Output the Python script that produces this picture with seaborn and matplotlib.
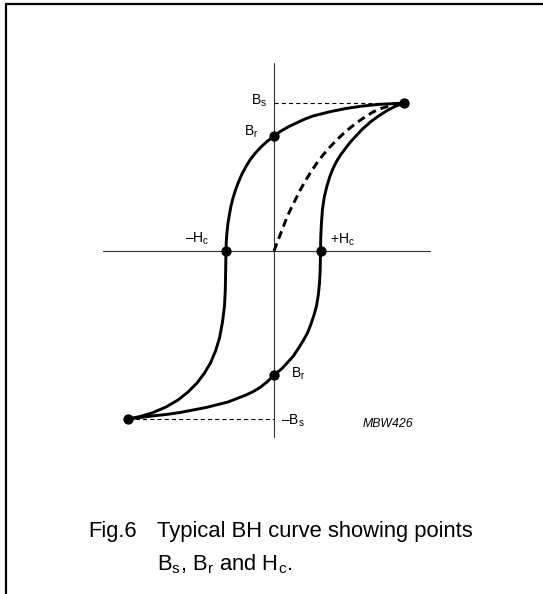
import matplotlib
matplotlib.use("Agg")
import matplotlib.pyplot as plt
from matplotlib.lines import Line2D
import pandas as pd
import seaborn as sns

# ---- hysteresis loop data (H and B in arbitrary units) ----
# descending branch: +saturation -> +Br -> -Hc -> -saturation
h_desc = [130, 118, 106, 89, 73, 56, 39, 31, 23, 15, 7, 0, -7, -13, -19, -24, -28, -32,
          -35.5, -38.5, -41, -43, -44.5, -46, -47, -47.7, -48, -48.2, -48.4, -48.7,
          -49.5, -51.5, -54.5, -58.5, -63.5, -69.5, -77, -86, -96, -108, -122, -134, -146]
b_desc = [148, 147.3, 146.7, 145, 142.7, 139.3, 135, 132, 128.3, 124.5, 120, 115, 109.5,
          104, 97.5, 91, 84.5, 77, 69, 61, 53, 45, 37, 28, 19, 10, 0, -11, -24, -39,
          -55, -71, -87, -100, -112, -122, -132, -141, -149, -156, -162, -165.5, -168]

# ascending branch: -saturation -> -Br -> +Hc -> +saturation
h_asc = [-146, -134, -122, -108, -94, -81, -68, -56, -46, -37, -28, -21, -14, -7, 0, 8,
         14, 19, 24, 29, 33.5, 37, 40, 42.5, 44.3, 45.5, 46.2, 46.5, 46.8, 47.5, 48.5,
         50.3, 52.7, 55.5, 58.8, 62.5, 66.5, 71, 76, 81.5, 88, 97, 106, 114, 122, 130]
b_asc = [-168, -166.5, -165, -163.5, -161.5, -159, -156.5, -153.5, -151, -147.5, -144,
         -140.7, -136.5, -131, -124, -117.5, -111, -105.5, -98, -90, -82, -73, -64, -55,
         -44, -32, -19, 0, 15, 29, 42, 54, 64, 73.5, 82, 89.5, 96, 102, 108.5, 114.5, 121.5,
         129.5, 136, 141, 145, 148]

# initial magnetization curve from the demagnetized state
h_init = [0, 3, 6.5, 10, 13, 17.5, 22, 26, 31, 36.5, 42.7, 49, 56, 62.7, 69.5, 76, 83,
          91, 99, 107, 115, 123, 130]
b_init = [0, 8, 17, 26, 34, 43.5, 52.5, 60.5, 69.5, 78.5, 87.7, 96, 104, 111, 117.5,
          123, 128.5, 134, 139, 142.5, 145, 146.8, 148]

# characteristic points
h_sat, b_sat = 130, 148            # +saturation
h_nsat, b_nsat = -146, -168        # -saturation
b_rem_pos, b_rem_neg = 115, -124   # remanence
h_coer_neg, h_coer_pos = -48, 46.5 # coercivity

point_h = [h_sat, h_nsat, 0, 0, h_coer_neg, h_coer_pos]
point_b = [b_sat, b_nsat, b_rem_pos, b_rem_neg, 0, 0]

# extent of the drawn H and B axes
h_axis_extent = [-171, 156]
b_axis_extent = [-186, 188]

# ---- styling ----
sns.set_theme(style="white")
plt.rcParams["font.family"] = ["Liberation Sans", "DejaVu Sans"]
plt.rcParams["text.color"] = "black"
plt.rcParams["mathtext.fontset"] = "custom"
plt.rcParams["mathtext.rm"] = "Liberation Sans"
plt.rcParams["mathtext.it"] = "Liberation Sans:italic"
plt.rcParams["mathtext.bf"] = "Liberation Sans:bold"
plt.rcParams["lines.scale_dashes"] = False

fig = plt.figure(figsize=(5.43, 5.94), dpi=100)
fig.patch.set_facecolor("white")
ax = fig.add_axes([0, 0, 1, 1])

# H and B axes
ax.plot(h_axis_extent, [0, 0], color="#333333", lw=0.8, zorder=1)
ax.plot([0, 0], b_axis_extent, color="#333333", lw=0.8, zorder=1)

# saturation reference lines
ax.plot([0, h_sat], [b_sat, b_sat], color="black", lw=0.8, dashes=(3.0, 2.2), zorder=1)
ax.plot([h_nsat, 0], [b_nsat, b_nsat], color="black", lw=0.8, dashes=(3.0, 2.2), zorder=1)

# loop branches
desc = pd.DataFrame({"H": h_desc, "B": b_desc})
asc = pd.DataFrame({"H": h_asc, "B": b_asc})
init = pd.DataFrame({"H": h_init, "B": b_init})

sns.lineplot(data=desc, x="H", y="B", sort=False, estimator=None, color="black",
             lw=2.1, ax=ax, zorder=3)
sns.lineplot(data=asc, x="H", y="B", sort=False, estimator=None, color="black",
             lw=2.1, ax=ax, zorder=3)
sns.lineplot(data=init, x="H", y="B", sort=False, estimator=None, color="black",
             lw=2.1, ax=ax, zorder=2)
ax.lines[-1].set_dashes((5.8, 3.6))
for ln in ax.lines:
    ln.set_solid_joinstyle("round")
    ln.set_solid_capstyle("round")

# characteristic points
sns.scatterplot(x=point_h, y=point_b, color="black", s=55, edgecolor="black",
                linewidth=0, ax=ax, zorder=4)

ax.set_xlim(-274, 269)
ax.set_ylim(-343, 251)
ax.set_xlabel("")
ax.set_ylabel("")
ax.axis("off")

# point labels
fs = 10
ax.text(-7, b_sat - 2, r"B$_\mathregular{s}$", fontsize=fs, ha="right", va="baseline")
ax.text(-16, b_rem_pos, r"B$_\mathregular{r}$", fontsize=fs, ha="right", va="baseline")
ax.text(h_coer_neg - 17, 8, "\u2013H$_\\mathregular{c}$", fontsize=fs, ha="right", va="baseline")
ax.text(h_coer_pos + 9.5, 7, "+H$_\\mathregular{c}$", fontsize=fs, ha="left", va="baseline")
ax.text(17, b_rem_neg - 3, r"B$_\mathregular{r}$", fontsize=fs, ha="left", va="baseline")
ax.text(7, b_nsat - 6, "\u2013B$_\\mathregular{s}$", fontsize=fs, ha="left", va="baseline")
ax.text(89, -176, "MBW426", fontsize=8.8, style="italic", ha="left", va="baseline")

# caption
W, Hpx = 543.0, 594.0
cap_fs = 15.8
fig.text(88 / W, 1 - 537 / Hpx, "Fig.6", fontsize=cap_fs, ha="left", va="baseline")
fig.text(157 / W, 1 - 537 / Hpx, "Typical BH curve showing points", fontsize=cap_fs,
         ha="left", va="baseline")
fig.text(157 / W, 1 - 570 / Hpx,
         r"B$_\mathregular{s}$, B$_\mathregular{r}$ and H$_\mathregular{c}$.",
         fontsize=cap_fs, ha="left", va="baseline")

# frame rules along the top and left edges
fig.add_artist(Line2D([6 / W, 1.0], [1 - 3.5 / Hpx, 1 - 3.5 / Hpx],
                      transform=fig.transFigure, color="black", lw=1.6))
fig.add_artist(Line2D([6 / W, 6 / W], [0.0, 1 - 3.5 / Hpx],
                      transform=fig.transFigure, color="black", lw=1.6))

fig.savefig("out.png", dpi=100, facecolor="white")
